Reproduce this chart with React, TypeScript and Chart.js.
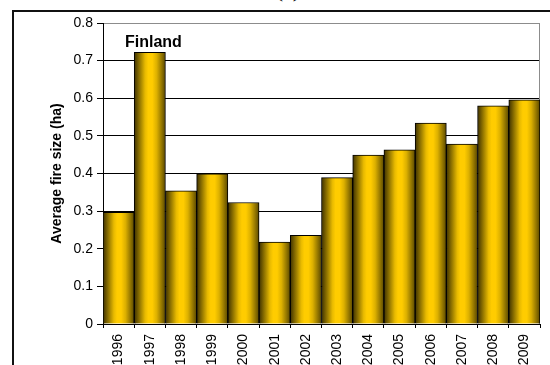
import React, { useEffect, useRef } from "react";
import { Chart, registerables } from "chart.js";

Chart.register(...registerables);

const years = ["1996","1997","1998","1999","2000","2001","2002","2003","2004","2005","2006","2007","2008","2009"];
const avgFireSize = [0.297,0.722,0.354,0.399,0.323,0.218,0.236,0.389,0.449,0.463,0.534,0.478,0.580,0.596];
const countryLabel = "Finland";
const yAxisTitle = "Average fire size (ha)";

const FONT = "Arial, 'Liberation Sans', Helvetica, sans-serif";

export default function App() {
  const ref = useRef<HTMLCanvasElement | null>(null);

  useEffect(() => {
    const canvas = ref.current;
    if (!canvas) return;

    const barGradient = (c: any) => {
      const chart = c.chart;
      const xs = chart.scales && chart.scales.x;
      if (!xs || !chart.chartArea) return "#ffcc00";
      const center = xs.getPixelForValue(c.dataIndex);
      const w = (xs.right - xs.left) / years.length;
      const g = chart.ctx.createLinearGradient(center - w / 2, 0, center + w / 2, 0);
      g.addColorStop(0, "#3e3100");
      g.addColorStop(0.1, "#6e5800");
      g.addColorStop(0.22, "#a88700");
      g.addColorStop(0.35, "#e8ba00");
      g.addColorStop(0.45, "#ffcc00");
      g.addColorStop(0.58, "#ffcc00");
      g.addColorStop(0.72, "#dcb000");
      g.addColorStop(0.86, "#9c7d00");
      g.addColorStop(1, "#5a4800");
      return g;
    };

    const framePlugin = {
      id: "framePlugin",
      beforeDatasetsDraw(chart: any) {
        const { ctx, chartArea } = chart;
        ctx.save();
        ctx.strokeStyle = "#8c8c8c";
        ctx.lineWidth = 1;
        ctx.beginPath();
        ctx.moveTo(chartArea.right - 0.5, chartArea.top);
        ctx.lineTo(chartArea.right - 0.5, chartArea.bottom);
        ctx.stroke();
        ctx.restore();
      },
      afterDraw(chart: any) {
        const { ctx, chartArea } = chart;
        ctx.save();
        ctx.fillStyle = "#000";
        ctx.font = `bold 16px ${FONT}`;
        ctx.textBaseline = "alphabetic";
        ctx.textAlign = "left";
        ctx.fillText(countryLabel, chartArea.left + 22, chartArea.top + 24);
        ctx.restore();
      },
    };

    const chart = new Chart(canvas, {
      type: "bar",
      data: {
        labels: years,
        datasets: [
          {
            data: avgFireSize,
            backgroundColor: barGradient as any,
            borderColor: "#000",
            borderWidth: 1,
            barPercentage: 1,
            categoryPercentage: 1,
          },
        ],
      },
      options: {
        responsive: false,
        animation: false,
        devicePixelRatio: 1,
        layout: { padding: { left: 45, top: 23, right: 10, bottom: 0 } },
        plugins: {
          legend: { display: false },
          tooltip: { enabled: false },
          title: { display: false },
        },
        scales: {
          x: {
            afterFit: (s: any) => { s.height = 400 - 324; },
            grid: {
              display: true,
              drawOnChartArea: false,
              drawTicks: true,
              tickLength: 4,
              color: "#000",
              tickColor: "#000",
              offset: true,
            },
            border: { color: "#000", width: 1 },
            ticks: {
              autoSkip: false,
              minRotation: 90,
              maxRotation: 90,
              padding: 6,
              color: "#000",
              font: { family: FONT, size: 14 },
            },
          },
          y: {
            min: 0,
            max: 0.8,
            afterFit: (s: any) => { s.width = 58; },
            grid: {
              color: (c: any) => (c.tick && Math.abs(c.tick.value - 0.8) < 1e-6 ? "#8c8c8c" : "#000"),
              tickColor: "#000",
              tickLength: 6,
              lineWidth: 1,
            },
            border: { color: "#000", width: 1 },
            ticks: {
              stepSize: 0.1,
              padding: 4,
              color: "#000",
              font: { family: FONT, size: 14 },
              callback: (v: any) => (Math.round(Number(v) * 10) / 10).toString(),
            },
            title: {
              display: true,
              text: yAxisTitle,
              color: "#000",
              font: { family: FONT, size: 14, weight: "bold" },
              padding: { top: 4, bottom: 4 },
            },
          },
        },
      },
      plugins: [framePlugin],
    });

    return () => chart.destroy();
  }, []);

  return (
    <div style={{ position: "fixed", left: 0, top: 0, width: 550, height: 365, overflow: "hidden", background: "#fff" }}>
      <div
        style={{
          position: "absolute",
          left: 253,
          top: -20,
          width: 70,
          textAlign: "center",
          fontFamily: "'Liberation Serif', 'DejaVu Serif', serif",
          fontSize: 22,
          lineHeight: "20px",
          color: "#000",
        }}
      >
        (a)
      </div>
      <div
        style={{
          position: "absolute",
          left: 12,
          top: 10,
          width: 700,
          height: 500,
          borderLeft: "2px solid #111",
          borderTop: "2px solid #111",
          boxSizing: "border-box",
        }}
      />
      <canvas
        ref={ref}
        width={550}
        height={400}
        style={{ position: "absolute", left: 0, top: 0, width: 550, height: 400 }}
      />
    </div>
  );
}
